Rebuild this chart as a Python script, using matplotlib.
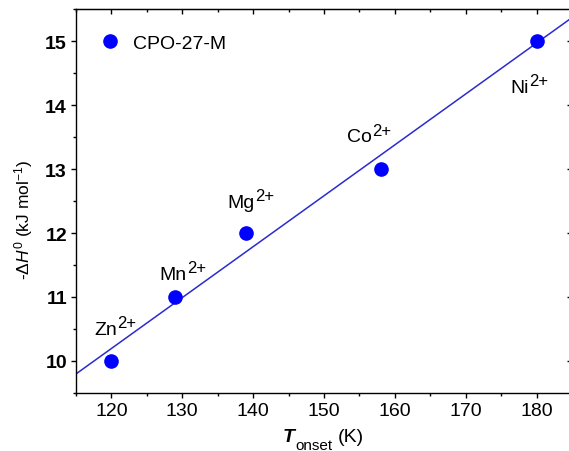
import numpy as np
import matplotlib
matplotlib.use("Agg")
import matplotlib.pyplot as plt
from matplotlib.ticker import MultipleLocator

plt.rcParams['font.family'] = ['Liberation Sans', 'DejaVu Sans']
plt.rcParams['mathtext.fontset'] = 'custom'
plt.rcParams['mathtext.rm'] = 'Liberation Sans'
plt.rcParams['mathtext.it'] = 'Liberation Sans:italic'
plt.rcParams['mathtext.bf'] = 'Liberation Sans:bold'
plt.rcParams['mathtext.bfit'] = 'Liberation Sans:bold:italic'

# Data
metals = ['Zn', 'Mn', 'Mg', 'Co', 'Ni']
t_onset = [120, 129, 139, 158, 180]
dH = [10, 11, 12, 13, 15]
label_pos_x = [120.77, 130.63, 140.21, 156.69, 178.94]
label_pos_y = [10.42, 11.28, 12.40, 13.43, 14.21]

fig = plt.figure(figsize=(5.69, 4.52), dpi=100)
ax = fig.add_axes([76/569, 58/452, 496/569, 384/452])

xlim = (115, 185)
ylim = (9.5, 15.5)

coef = np.polyfit(t_onset, dH, 1)
xf = np.array(xlim)
ax.plot(xf, np.polyval(coef, xf), color='#2b2bcf', lw=1.1, zorder=2)
ax.plot(t_onset, dH, 'o', color='#0000ff', markersize=9.5, label='CPO-27-M', zorder=3)

for m, x, y in zip(metals, label_pos_x, label_pos_y):
    ax.text(x, y, m, ha='right', va='baseline', fontsize=14)
    ax.annotate('2+', xy=(x, y), xytext=(0.3, 5), textcoords='offset points',
                ha='left', va='baseline', fontsize=12)

ax.set_xlim(*xlim)
ax.set_ylim(*ylim)
ax.xaxis.set_major_locator(MultipleLocator(10))
ax.xaxis.set_minor_locator(MultipleLocator(5))
ax.yaxis.set_major_locator(MultipleLocator(1))
ax.yaxis.set_minor_locator(MultipleLocator(0.5))
ax.tick_params(which='major', direction='out', length=3.5, width=1, labelsize=14, pad=3)
ax.tick_params(which='minor', direction='out', length=2, width=1)
for lab in ax.get_yticklabels():
    lab.set_fontweight('bold')
for s in ax.spines.values():
    s.set_linewidth(1)

secx = ax.secondary_xaxis('top')
secx.xaxis.set_major_locator(MultipleLocator(10))
secx.xaxis.set_minor_locator(MultipleLocator(5))
secx.tick_params(which='major', direction='in', length=3.5, width=1, labeltop=False)
secx.tick_params(which='minor', direction='in', length=2, width=1)
secy = ax.secondary_yaxis('right')
secy.yaxis.set_major_locator(MultipleLocator(1))
secy.yaxis.set_minor_locator(MultipleLocator(0.5))
secy.tick_params(which='major', direction='in', length=3.5, width=1, labelright=False)
secy.tick_params(which='minor', direction='in', length=2, width=1)

# x label built from pieces (large subscript as in the original)
fig.text(283/569, 10/452, 'T', fontsize=14, fontweight='bold', fontstyle='italic',
         ha='left', va='baseline')
fig.text(295/569, 2/452, 'onset', fontsize=11, ha='left', va='baseline')
fig.text(338/569, 10/452, '(K)', fontsize=14, ha='left', va='baseline')

ax.set_ylabel(r'-$\Delta$$\mathit{H}^{0}$ (kJ mol$^{-1}$)', fontsize=12.5)
ax.yaxis.set_label_coords(-0.083, 0.453)

ax.legend(loc='upper left', frameon=False, fontsize=14, handletextpad=0.2,
          borderaxespad=0.5, bbox_to_anchor=(-0.006, 0.98))

fig.savefig('out.png', dpi=100)
